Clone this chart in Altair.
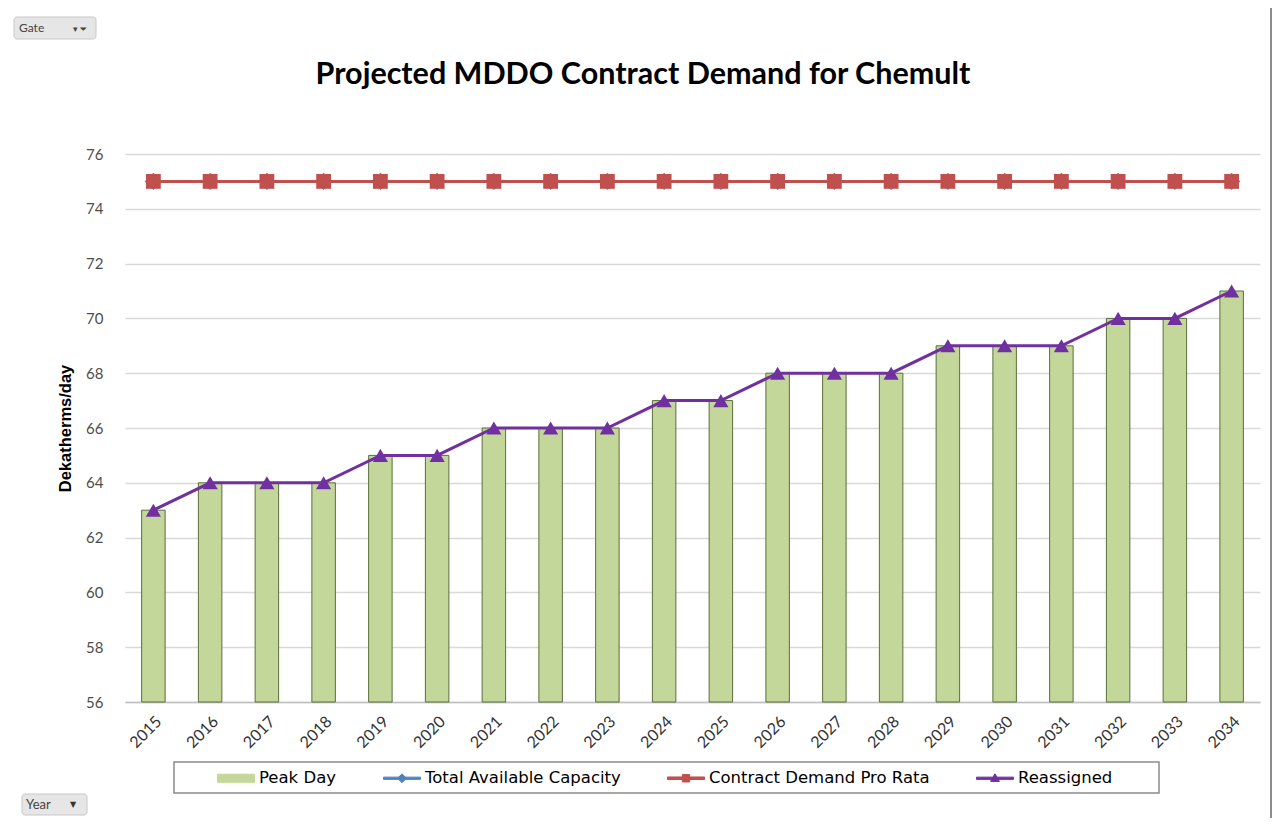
import altair as alt
import pandas as pd

# ---------------- data ----------------
years = ["2015", "2016", "2017", "2018", "2019", "2020", "2021", "2022", "2023", "2024",
         "2025", "2026", "2027", "2028", "2029", "2030", "2031", "2032", "2033", "2034"]
peak_day = [63, 64, 64, 64, 65, 65, 66, 66, 66, 67, 67, 68, 68, 68, 69, 69, 69, 70, 70, 71]
total_available_capacity = [75, 75, 75, 75, 75, 75, 75, 75, 75, 75,
                            75, 75, 75, 75, 75, 75, 75, 75, 75, 75]
contract_demand_pro_rata = [75, 75, 75, 75, 75, 75, 75, 75, 75, 75,
                            75, 75, 75, 75, 75, 75, 75, 75, 75, 75]
reassigned = [63, 64, 64, 64, 65, 65, 66, 66, 66, 67, 67, 68, 68, 68, 69, 69, 69, 70, 70, 71]

series_names = ["Peak Day", "Total Available Capacity", "Contract Demand Pro Rata", "Reassigned"]
series_colors = ["#c4d79b", "#4f81bd", "#c0504d", "#7030a0"]
y_ticks = [56, 58, 60, 62, 64, 66, 68, 70, 72, 74, 76]

title_text = "Projected MDDO Contract Demand for Chemult"
y_title = "Dekatherms/day"

# ---------------- tables ----------------
bars_df = pd.DataFrame({"Year": years, "value": peak_day, "series": "Peak Day"})
lines_df = pd.concat([
    pd.DataFrame({"Year": years, "value": total_available_capacity, "series": "Total Available Capacity"}),
    pd.DataFrame({"Year": years, "value": contract_demand_pro_rata, "series": "Contract Demand Pro Rata"}),
    pd.DataFrame({"Year": years, "value": reassigned, "series": "Reassigned"}),
], ignore_index=True)
legend_df = pd.DataFrame({"series": series_names})
one = legend_df.head(1)

W, H = 1135, 548

color_scale = alt.Scale(domain=series_names, range=series_colors)
x_scale = alt.Scale(paddingInner=0.586, paddingOuter=0.293)
y_scale = alt.Scale(domain=[56, 76], nice=False, zero=False)

x_axis = alt.Axis(title=None, labelAngle=-45, labelFont="Lato", labelFontSize=16,
                  labelColor="#333333", ticks=False, domainColor="#bfbfbf", domainWidth=1.5,
                  labelPadding=11, grid=False)
y_axis = alt.Axis(title=y_title, values=y_ticks, labelFont="Lato", labelFontSize=15,
                  labelColor="#4d4d4d", ticks=False, domain=False, labelPadding=22,
                  gridColor="#d9d9d9", gridWidth=1.5,
                  titleFont="Liberation Sans", titleFontSize=16.5, titleFontWeight="bold",
                  titleColor="#000000", titleX=-60, titleY=H / 2, titleAngle=-90,
                  titleAlign="center", titleBaseline="middle")

# legend-only layer (draws nothing, provides the legend)
legend_paths = [
    "M-1,-0.22H1V0.22H-1Z",
    "M-1,-0.06H1V0.06H-1Z M0,-0.24L0.24,0L0,0.24L-0.24,0Z",
    "M-1,-0.07H1V0.07H-1Z M-0.2,-0.2H0.2V0.2H-0.2Z",
    "M-1,-0.06H1V0.06H-1Z M0,-0.24L0.24,0.17L-0.24,0.17Z",
]
leg = alt.Legend(title=None, orient="none", legendX=92, legendY=605, direction="horizontal",
                 columns=4, columnPadding=44, labelOffset=4, symbolSize=1369, padding=0,
                 labelFont="DejaVu Sans", labelFontSize=16.5, labelColor="#000000", labelLimit=400,
                 symbolOpacity=1, symbolStrokeWidth=1,
                 symbolStrokeColor={"expr": "datum.label == 'Peak Day' ? '#5a6e3a' : null"})
legend_layer = alt.Chart(legend_df).transform_filter("false").mark_point(filled=True, opacity=1).encode(
    fill=alt.Fill("series:N", scale=alt.Scale(domain=series_names, range=series_colors), legend=leg),
    shape=alt.Shape("series:N", scale=alt.Scale(domain=series_names, range=legend_paths), legend=leg),
)

# decorative frame, chart title and pivot buttons (Excel UI)
frame = alt.Chart(one).mark_rect(fill="transparent", stroke="#8c8c8c", strokeWidth=2).encode(
    x=alt.value(-122), x2=alt.value(W + 11), y=alt.value(-151), y2=alt.value(H + 200))
title = alt.Chart(one).mark_text(text=title_text, font="Lato", fontSize=30.5, fontWeight="bold",
                                 color="#000000", align="center", baseline="alphabetic").encode(
    x=alt.value(518), y=alt.value(-70))
gate_btn = alt.Chart(one).mark_rect(fill="#e6e6e6", stroke="#c8c8c8", cornerRadius=3).encode(
    x=alt.value(-111), x2=alt.value(-29), y=alt.value(-137), y2=alt.value(-115))
gate_txt = alt.Chart(one).mark_text(text="Gate", font="Lato", fontSize=12, color="#444444",
                                    align="left", baseline="middle").encode(
    x=alt.value(-106), y=alt.value(-126))
gate_icon = alt.Chart(one).mark_text(text="▾ ⏷", font="DejaVu Sans", fontSize=9, color="#444444",
                                     align="left", baseline="middle").encode(
    x=alt.value(-52), y=alt.value(-125))
year_btn = alt.Chart(one).mark_rect(fill="#e6e6e6", stroke="#c8c8c8", cornerRadius=3).encode(
    x=alt.value(-103), x2=alt.value(-38), y=alt.value(640), y2=alt.value(661))
year_txt = alt.Chart(one).mark_text(text="Year", font="Lato", fontSize=13, color="#444444",
                                    align="left", baseline="middle").encode(
    x=alt.value(-99), y=alt.value(650.5))
year_icon = alt.Chart(one).mark_text(text="▼", font="DejaVu Sans", fontSize=8, color="#333333",
                                     align="left", baseline="middle").encode(
    x=alt.value(-55), y=alt.value(650.5))
legend_box = alt.Chart(one).mark_rect(fill="transparent", stroke="#8c8c8c", strokeWidth=1.5).encode(
    x=alt.value(49), x2=alt.value(1034), y=alt.value(608), y2=alt.value(639))

# bars
bars = alt.Chart(bars_df).mark_bar(stroke="#5a6e3a", strokeWidth=1).encode(
    x=alt.X("Year:N", scale=x_scale, axis=x_axis, sort=years),
    y=alt.Y("value:Q", scale=y_scale, axis=y_axis),
    y2=alt.datum(56),
    color=alt.Color("series:N", scale=color_scale, legend=None),
)

marker_shape = {"Total Available Capacity": "diamond", "Contract Demand Pro Rata": "square",
                "Reassigned": "triangle-up"}
marker_size = {"Total Available Capacity": 300, "Contract Demand Pro Rata": 220, "Reassigned": 230}
line_width = {"Total Available Capacity": 3, "Contract Demand Pro Rata": 3, "Reassigned": 3}

series_layers = []
for s in series_names[1:]:
    base = alt.Chart(lines_df).transform_filter(alt.datum.series == s)
    enc = dict(
        x=alt.X("Year:N", sort=years),
        y=alt.Y("value:Q"),
        color=alt.Color("series:N", scale=color_scale, legend=None),
    )
    series_layers.append(base.mark_line(strokeWidth=line_width[s]).encode(**enc))
    series_layers.append(base.mark_point(filled=True, opacity=1, shape=marker_shape[s],
                                         size=marker_size[s]).encode(**enc))

chart = alt.layer(
    legend_layer, frame, title, gate_btn, gate_txt, gate_icon, year_btn, year_txt, year_icon,
    legend_box, bars, *series_layers
).properties(
    width=W, height=H,
    background="white",
    autosize=alt.AutoSizeParams(type="none"),
    padding={"left": 117, "top": 146, "right": 12, "bottom": 116},
).configure_view(stroke=None)

chart.save("out.html", embed_options={"renderer": "svg", "actions": False})
